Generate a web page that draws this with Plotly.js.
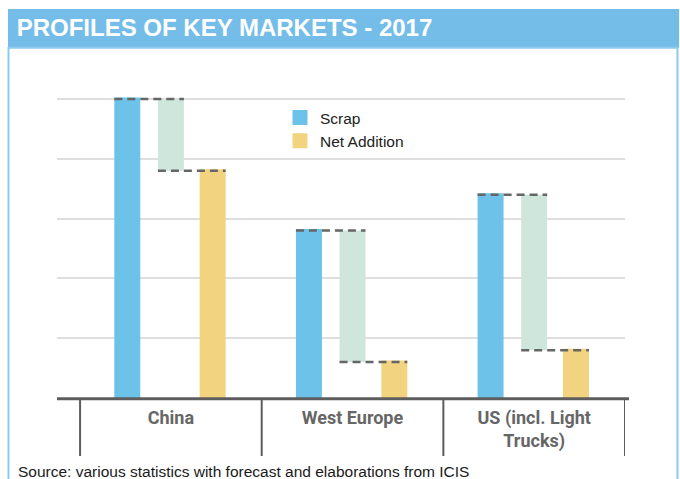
<!DOCTYPE html>
<html>
<head>
<meta charset="utf-8">
<script src="https://cdn.plot.ly/plotly-3.0.1.min.js"></script>
<style>
html,body{margin:0;padding:0;background:#fff;}
#chart{width:680px;height:479px;}
</style>
</head>
<body>
<div id="chart"></div>
<script>
// ---- data ----
const categories = ["China", "West Europe", "US (incl. Light<br>Trucks)"];
const scrap = [5.0, 2.8, 3.4];          // blue bars
const netAddition = [3.8, 0.6, 0.8];    // yellow bars
const seriesNames = ["Scrap", "Net Addition"];

// ---- styling / positions ----
const W = 0.143;                 // visual bar width (category units)
const LW = 3;                    // bar outline (same colour) width in px
const WB = W - LW / 181.5;       // bar body width so outline keeps total width
const offBlue = -0.24, offGreen = 0.0, offYellow = 0.23;
const cBlue = "#6cc2e9", cYellow = "#f2d37f", cGreen = "#cfe6dc";
const diff = scrap.map((v, i) => v - netAddition[i]);

const traces = [
  {
    type: "bar", name: seriesNames[0], x: categories, y: scrap,
    width: WB, offset: offBlue - WB / 2,
    marker: {color: cBlue, line: {color: cBlue, width: LW}}, hoverinfo: "skip"
  },
  {
    type: "bar", name: "diff", x: categories, y: diff, base: netAddition,
    width: W, offset: offGreen - W / 2, showlegend: false,
    marker: {color: cGreen, line: {width: 0}}, hoverinfo: "skip"
  },
  {
    type: "bar", name: seriesNames[1], x: categories, y: netAddition,
    width: WB, offset: offYellow - WB / 2,
    marker: {color: cYellow, line: {color: cYellow, width: LW}}, hoverinfo: "skip"
  }
];

const shapes = [];
// header band and frame
shapes.push({type: "rect", xref: "paper", yref: "paper", x0: -0.0863, x1: 1.0951, y0: 1.1016, y1: 1.2233,
  fillcolor: "#74bde9", line: {width: 0}, layer: "below"});
shapes.push({type: "rect", xref: "paper", yref: "paper", x0: -0.0854, x1: 1.0924, y0: -0.30, y1: 1.1016,
  fillcolor: "rgba(0,0,0,0)", line: {color: "#8ccbf0", width: 2}, layer: "below"});
// baseline
shapes.push({type: "line", xref: "paper", yref: "paper", x0: 0, x1: 1.007, y0: -0.002, y1: -0.002,
  line: {color: "#5d5d5d", width: 3}});
// category dividers
[-0.5, 0.5, 1.5, 2.5].forEach(x => shapes.push({type: "line", xref: "x", yref: "paper",
  x0: x, x1: x, y0: 0, y1: -0.1824, line: {color: "#5d5d5d", width: 2}}));
// dashed connectors
categories.forEach((c, i) => {
  shapes.push({type: "line", xref: "x", yref: "y",
    x0: i + offBlue - W / 2, x1: i + offGreen + W / 2, y0: scrap[i], y1: scrap[i],
    line: {color: "#666666", width: 2.5, dash: "8px,5px"}});
  shapes.push({type: "line", xref: "x", yref: "y",
    x0: i + offGreen - W / 2, x1: i + offYellow + W / 2, y0: netAddition[i], y1: netAddition[i],
    line: {color: "#666666", width: 2.5, dash: "8px,5px"}});
});

const layout = {
  width: 680, height: 479,
  margin: {l: 57, r: 55, t: 80, b: 81},
  paper_bgcolor: "#ffffff", plot_bgcolor: "#ffffff",
  barmode: "overlay",
  title: {
    text: "PROFILES OF KEY MARKETS - 2017",
    xref: "container", yref: "container", x: 0.0245, xanchor: "left", y: 0.942, yanchor: "middle",
    font: {family: "Liberation Sans, Arial, sans-serif", size: 24, weight: 700, color: "#ffffff"}
  },
  xaxis: {
    type: "category", range: [-0.627, 2.5], showgrid: false, zeroline: false, showline: false,
    ticks: "", fixedrange: true, ticklabelstandoff: 7,
    tickfont: {family: "Roboto, sans-serif", size: 18, weight: 700, color: "#666666"}
  },
  yaxis: {
    range: [0, 5.318], tick0: 0, dtick: 1, showticklabels: false, zeroline: false, showline: false,
    gridcolor: "#dedede", gridwidth: 2, fixedrange: true
  },
  legend: {
    x: 0.3926, xanchor: "left", y: 0.934, yanchor: "top", bgcolor: "rgba(0,0,0,0)",
    font: {family: "Liberation Sans, Arial, sans-serif", size: 15.5, color: "#222222"}
  },
  shapes: shapes,
  annotations: [{
    text: "Source: various statistics with forecast and elaborations from ICIS",
    xref: "paper", yref: "paper", x: -0.0722, xanchor: "left", y: -0.2296, yanchor: "middle",
    showarrow: false, font: {family: "Liberation Sans, Arial, sans-serif", size: 15.5, color: "#1a1a1a"}
  }],
  showlegend: true
};

Plotly.newPlot("chart", traces, layout, {displayModeBar: false, staticPlot: true});
</script>
</body>
</html>
